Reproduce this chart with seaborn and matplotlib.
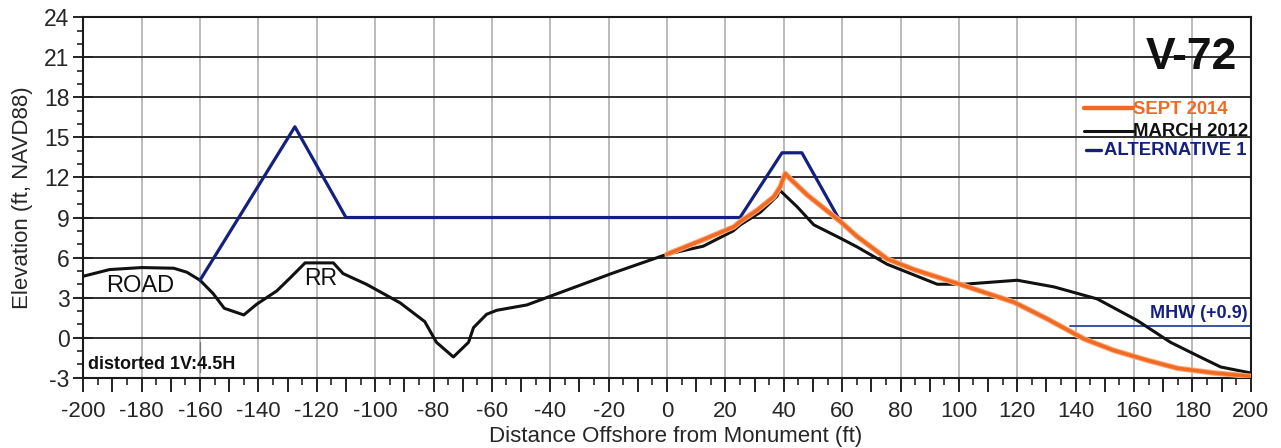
import numpy as np
import pandas as pd
import matplotlib
matplotlib.use("Agg")
import matplotlib.pyplot as plt
import matplotlib.patheffects as pe
from matplotlib.ticker import MultipleLocator, FuncFormatter
import seaborn as sns

# ---- Profile data (distance offshore in ft, elevation in ft NAVD88) ----
march2012_x = [-200, -191, -180, -169, -164.5, -160, -155.5, -151.7, -145, -140.6,
               -133.7, -129, -124, -114.3, -111, -103, -91.4, -83, -79, -73.2,
               -68, -66.3, -61.8, -58.3, -48, -40, -18.4, 0, 12.4, 22.7,
               25.1, 32, 37.7, 38.6, 44.6, 50.3, 59.4, 65.1, 75.4, 80,
               92.6, 101.7, 120, 132.6, 147.4, 161, 172.5, 181.7, 189.7, 200]
march2012_y = [4.6, 5.1, 5.25, 5.2, 4.9, 4.3, 3.3, 2.2, 1.7, 2.5,
               3.5, 4.5, 5.6, 5.6, 4.8, 4.0, 2.6, 1.2, -0.35, -1.45,
               -0.35, 0.75, 1.75, 2.05, 2.45, 3.1, 4.85, 6.25, 6.85, 8.0,
               8.45, 9.4, 10.6, 11.05, 9.8, 8.45, 7.45, 6.8, 5.5, 5.1,
               4.0, 4.0, 4.3, 3.8, 2.9, 1.3, -0.35, -1.35, -2.2, -2.65]

sept2014_x = [0, 11.4, 22.9, 25.1, 30.9, 36.6, 38.8, 40.5, 42.2, 48,
              53.7, 59.4, 65, 75.4, 84.6, 101.7, 118.9, 130.3, 142.9, 153,
              164.6, 175, 187.5, 200]
sept2014_y = [6.25, 7.25, 8.3, 8.7, 9.55, 10.55, 11.3, 12.3, 11.9, 10.7,
              9.7, 8.7, 7.6, 5.9, 5.1, 3.9, 2.65, 1.4, -0.1, -0.95,
              -1.7, -2.3, -2.65, -2.9]

alt1_x = [-160, -127.5, -110, 25, 39.4, 46.2, 59.4]
alt1_y = [4.3, 15.8, 9, 9, 13.85, 13.85, 8.7]

mhw_level = 0.9
mhw_x = [138, 200]

divider_x = -160
divider_y = [-0.3, -2.6]

x_limits = (-200, 200)
y_limits = (-3, 24)

ORANGE = "#F26A22"
ORANGE_HALO = "#F8A878"
BLACK = "#111111"
NAVY = "#142080"
MHW_BLUE = "#2a44a8"

sns.set_style("ticks")
plt.rcParams["font.family"] = ["Liberation Sans", "DejaVu Sans"]
plt.rcParams["axes.unicode_minus"] = False

fig = plt.figure(figsize=(12.81, 4.48), dpi=100)
ax = fig.add_axes([0.065, 0.157, 0.9114, 0.8043])

df12 = pd.DataFrame({"x": march2012_x, "y": march2012_y})
df14 = pd.DataFrame({"x": sept2014_x, "y": sept2014_y})
dfa = pd.DataFrame({"x": alt1_x, "y": alt1_y})

# grid first so the profiles sit on top
ax.set_xlim(*x_limits)
ax.set_ylim(*y_limits)
ax.yaxis.set_major_locator(MultipleLocator(3))
ax.yaxis.set_minor_locator(MultipleLocator(1))
ax.yaxis.set_major_formatter(FuncFormatter(lambda v, p: f"{int(round(v))}"))
ax.xaxis.set_major_locator(MultipleLocator(10))
ax.xaxis.set_minor_locator(MultipleLocator(5))
ax.xaxis.set_major_formatter(FuncFormatter(
    lambda v, p: f"{int(round(v))}" if int(round(v)) % 20 == 0 else ""))
ax.grid(axis="y", which="major", color="#2e2e2e", lw=1.4, zorder=0)
for t in np.arange(x_limits[0], x_limits[1] + 1, 20):
    ax.axvline(t, color="#a8a8a8", lw=1.1, zorder=0)

sns.lineplot(data=df12, x="x", y="y", sort=False, estimator=None, ax=ax,
             color=BLACK, lw=2.2, zorder=3)
sns.lineplot(data=dfa, x="x", y="y", sort=False, estimator=None, ax=ax,
             color=NAVY, lw=2.3, zorder=4)
sns.lineplot(data=df14, x="x", y="y", sort=False, estimator=None, ax=ax,
             color=ORANGE, lw=2.5, zorder=5,
             path_effects=[pe.Stroke(linewidth=4.0, foreground=ORANGE_HALO),
                           pe.Normal()])

# mean high water
ax.plot(mhw_x, [mhw_level, mhw_level], color=MHW_BLUE, lw=1.3, zorder=2)
ax.text(199, mhw_level + 0.3, "MHW (+0.9)", color=NAVY, fontsize=13,
        fontweight="bold", ha="right", va="bottom", zorder=6)

ax.plot([divider_x, divider_x], divider_y, color="#777777", lw=0.9, zorder=2)

# annotations
ax.text(-192, 3.9, "ROAD", fontsize=17, ha="left", va="center", color="#111111")
ax.text(-124.5, 4.45, "RR", fontsize=16.5, ha="left", va="center", color="#111111")
ax.text(-198.5, -2.05, "distorted 1V:4.5H", fontsize=13, fontweight="bold",
        ha="left", va="center", color="#111111")
ax.text(0.9495, 0.888, "V-72", transform=ax.transAxes, fontsize=32,
        fontweight="bold", ha="center", va="center", color="#111111")

# hand-drawn legend block
tr = ax.transAxes
ax.plot([0.857, 0.899], [0.748, 0.748], transform=tr, color=ORANGE, lw=3.2)
ax.text(0.8995, 0.743, "SEPT 2014", transform=tr, color=ORANGE, fontsize=13.3,
        fontweight="bold", ha="left", va="center")
ax.plot([0.857, 0.899], [0.684, 0.684], transform=tr, color=BLACK, lw=2.2)
ax.text(0.8995, 0.682, "MARCH 2012", transform=tr, color=BLACK, fontsize=13.3,
        fontweight="bold", ha="left", va="center")
ax.plot([0.859, 0.872], [0.632, 0.632], transform=tr, color=NAVY, lw=2.4)
ax.text(0.8745, 0.630, "ALTERNATIVE 1", transform=tr, color=NAVY, fontsize=13.3,
        fontweight="bold", ha="left", va="center")

# axes styling
for s in ax.spines.values():
    s.set_visible(True)
    s.set_color("#1a1a1a")
    s.set_linewidth(1.5)
ax.tick_params(axis="x", which="major", direction="out", length=10, width=1.4,
               color="#222222", labelsize=16, pad=7)
ax.tick_params(axis="x", which="minor", direction="out", length=5, width=1.2,
               color="#222222")
ax.tick_params(axis="y", which="major", direction="inout", length=14, width=1.4,
               color="#222222", labelsize=16.5, pad=3)
ax.tick_params(axis="y", which="minor", direction="out", length=4, width=1.2,
               color="#222222")

ax.set_xlabel("Distance Offshore from Monument (ft)", fontsize=16)
ax.set_ylabel("Elevation (ft, NAVD88)", fontsize=16)
ax.xaxis.set_label_coords(0.507, -0.135)
ax.yaxis.set_label_coords(-0.043, 0.5)

fig.savefig("out.png", dpi=100, facecolor="white")
